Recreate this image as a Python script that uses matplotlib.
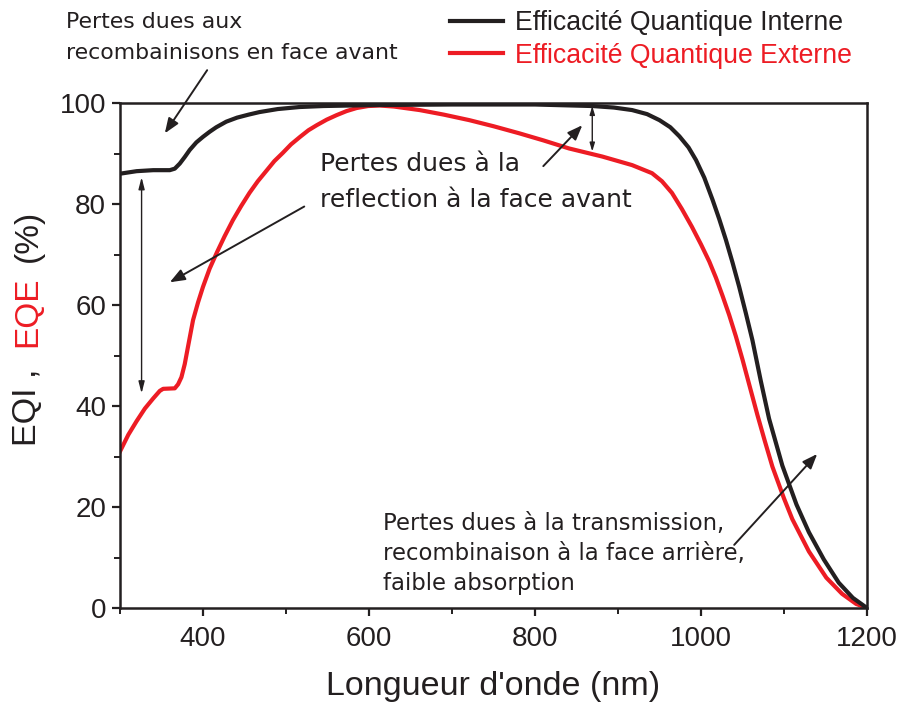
import matplotlib
matplotlib.use("Agg")
import matplotlib.pyplot as plt
from matplotlib.ticker import MultipleLocator

# ---- data ----
iqe_nm = [300, 320, 340, 360, 366, 372, 378, 384, 392, 400, 408, 416, 428, 441, 455, 468,
          490, 516, 545, 577, 610, 700, 800, 869, 895, 917, 935, 950, 963, 974, 985,
          994, 1004, 1014, 1022, 1030, 1038, 1046, 1054, 1062, 1072, 1082, 1098, 1115,
          1130, 1148, 1166, 1183, 1200]
iqe_val = [86.0, 86.5, 86.7, 86.7, 87.0, 88.0, 89.3, 90.7, 92.2, 93.3, 94.3, 95.2, 96.3,
           97.1, 97.7, 98.2, 98.8, 99.2, 99.4, 99.5, 99.6, 99.7, 99.7, 99.4, 99.1, 98.6,
           97.8, 96.6, 95.2, 93.4, 91.2, 88.7, 85.2, 80.8, 77.0, 72.9, 68.4, 63.6, 58.4,
           53.0, 45.0, 37.5, 28.2, 20.5, 15.0, 9.6, 5.0, 2.0, 0.0]

eqe_nm = [300, 310, 320, 330, 340, 348, 352, 366, 370, 374, 378, 382, 388, 394, 400,
          408, 417, 426, 436, 446, 456, 466, 477, 486, 496, 506, 517, 527, 537, 549, 561,
          573, 585, 599, 613, 630, 661, 690, 721, 750, 781, 810, 841, 881, 917, 941,
          953, 965, 977, 989, 1000, 1010, 1018, 1026, 1034, 1042, 1050, 1058, 1068,
          1077, 1086, 1100, 1110, 1130, 1151, 1170, 1187, 1200]
eqe_val = [31.0, 34.3, 37.0, 39.5, 41.5, 43.0, 43.4, 43.5, 44.3, 45.7, 48.3, 51.8, 57.0,
           60.5, 63.6, 67.2, 70.5, 73.6, 76.8, 79.6, 82.2, 84.5, 86.7, 88.5, 90.1, 91.8,
           93.3, 94.6, 95.6, 96.7, 97.6, 98.4, 99.0, 99.4, 99.5, 99.3, 98.6, 97.7, 96.6,
           95.4, 94.0, 92.6, 91.0, 89.4, 87.7, 86.1, 84.5, 82.2, 79.0, 75.5, 72.0, 68.6,
           65.4, 61.8, 58.0, 53.8, 49.2, 44.3, 38.2, 33.0, 28.0, 21.7, 17.6, 11.2, 6.0,
           2.8, 0.8, 0.0]

series_labels = ["Efficacité Quantique Interne", "Efficacité Quantique Externe"]
x_ticks = [400, 600, 800, 1000, 1200]
y_ticks = [0, 20, 40, 60, 80, 100]

BLACK = "#231F20"
RED = "#ED1C24"

fig = plt.figure(figsize=(9.02, 7.04), dpi=100)
ax = fig.add_axes([120 / 902, 96 / 704, 747 / 902, 505 / 704])

l1, = ax.plot(iqe_nm, iqe_val, color=BLACK, lw=3.0, solid_joinstyle="round", zorder=3)
l2, = ax.plot(eqe_nm, eqe_val, color=RED, lw=3.0, solid_joinstyle="round", zorder=2)

ax.set_xlim(300, 1200)
ax.set_ylim(0, 100)
ax.set_xticks(x_ticks)
ax.set_yticks(y_ticks)
ax.xaxis.set_minor_locator(MultipleLocator(100))
ax.yaxis.set_minor_locator(MultipleLocator(10))
for s in ax.spines.values():
    s.set_linewidth(1.8)
    s.set_color(BLACK)
ax.tick_params(which="major", direction="out", length=6, width=1.6, colors=BLACK,
               labelsize=20, pad=4)
ax.tick_params(which="minor", direction="out", length=4, width=1.4, colors=BLACK)
ax.tick_params(axis="x", which="major", pad=7)
for lab in ax.get_xticklabels() + ax.get_yticklabels():
    lab.set_family("Liberation Sans")

ax.set_xlabel("Longueur d'onde (nm)", fontsize=24.5, family="Liberation Sans",
              color=BLACK, labelpad=14)

# y label in three colored pieces
def fy(py):
    return 1 - py / 704
fig.text(28 / 902, fy(446), "EQI ,", rotation=90, ha="center", va="bottom",
         fontsize=24.5, family="Liberation Sans", color=BLACK)
fig.text(28 / 902, fy(347), "EQE", rotation=90, ha="center", va="bottom",
         fontsize=24, family="Liberation Sans", color=RED)
fig.text(28 / 902, fy(262), "(%)", rotation=90, ha="center", va="bottom",
         fontsize=24, family="Liberation Sans", color=BLACK)

# legend
leg = fig.legend([l1, l2], series_labels, loc="upper left",
                 bbox_to_anchor=(450 / 902, 1 - 10 / 704), frameon=False,
                 prop={"family": "Liberation Sans", "size": 19.2},
                 handlelength=2.0, handletextpad=0.45, labelspacing=0.25,
                 borderpad=0, borderaxespad=0)
for t, c in zip(leg.get_texts(), [BLACK, RED]):
    t.set_color(c)

# annotations
TXT = dict(family="DejaVu Sans", color=BLACK)
fig.text(66 / 902, fy(12), "Pertes dues aux\nrecombainisons en face avant",
         ha="left", va="top", fontsize=15.8, linespacing=1.68, **TXT)
fig.text(320 / 902, fy(152), "Pertes dues à la\nreflection à la face avant",
         ha="left", va="top", fontsize=18, linespacing=1.62, **TXT)
fig.text(383 / 902, fy(512), "Pertes dues à la transmission,\nrecombinaison à la face arrière,\nfaible absorption",
         ha="left", va="top", fontsize=16.4, linespacing=1.4, **TXT)

big = dict(arrowstyle="-|>,head_length=0.9,head_width=0.35", color=BLACK, lw=1.4,
           shrinkA=0, shrinkB=0)
# front recombination arrow
ax.annotate("", xy=(354, 94), xytext=(405, 106.5), xycoords="data", textcoords="data",
            arrowprops=big, annotation_clip=False)
# reflection arrows
ax.annotate("", xy=(360, 64.5), xytext=(522, 79.5), arrowprops=big)
ax.annotate("", xy=(857, 95.6), xytext=(810, 87.5), arrowprops=big)
# transmission arrow
ax.annotate("", xy=(1140, 30.5), xytext=(1040, 12.5), arrowprops=big)

small = dict(arrowstyle="<|-|>,head_length=0.7,head_width=0.18", color=BLACK, lw=1.0,
             shrinkA=0, shrinkB=0)
ax.annotate("", xy=(326, 42.5), xytext=(326, 85.3), arrowprops=small)
ax.annotate("", xy=(869, 90.4), xytext=(869, 99.4),
            arrowprops=dict(arrowstyle="<|-|>,head_length=0.5,head_width=0.15",
                            color=BLACK, lw=1.0, shrinkA=0, shrinkB=0))

fig.savefig("out.png", dpi=100)
